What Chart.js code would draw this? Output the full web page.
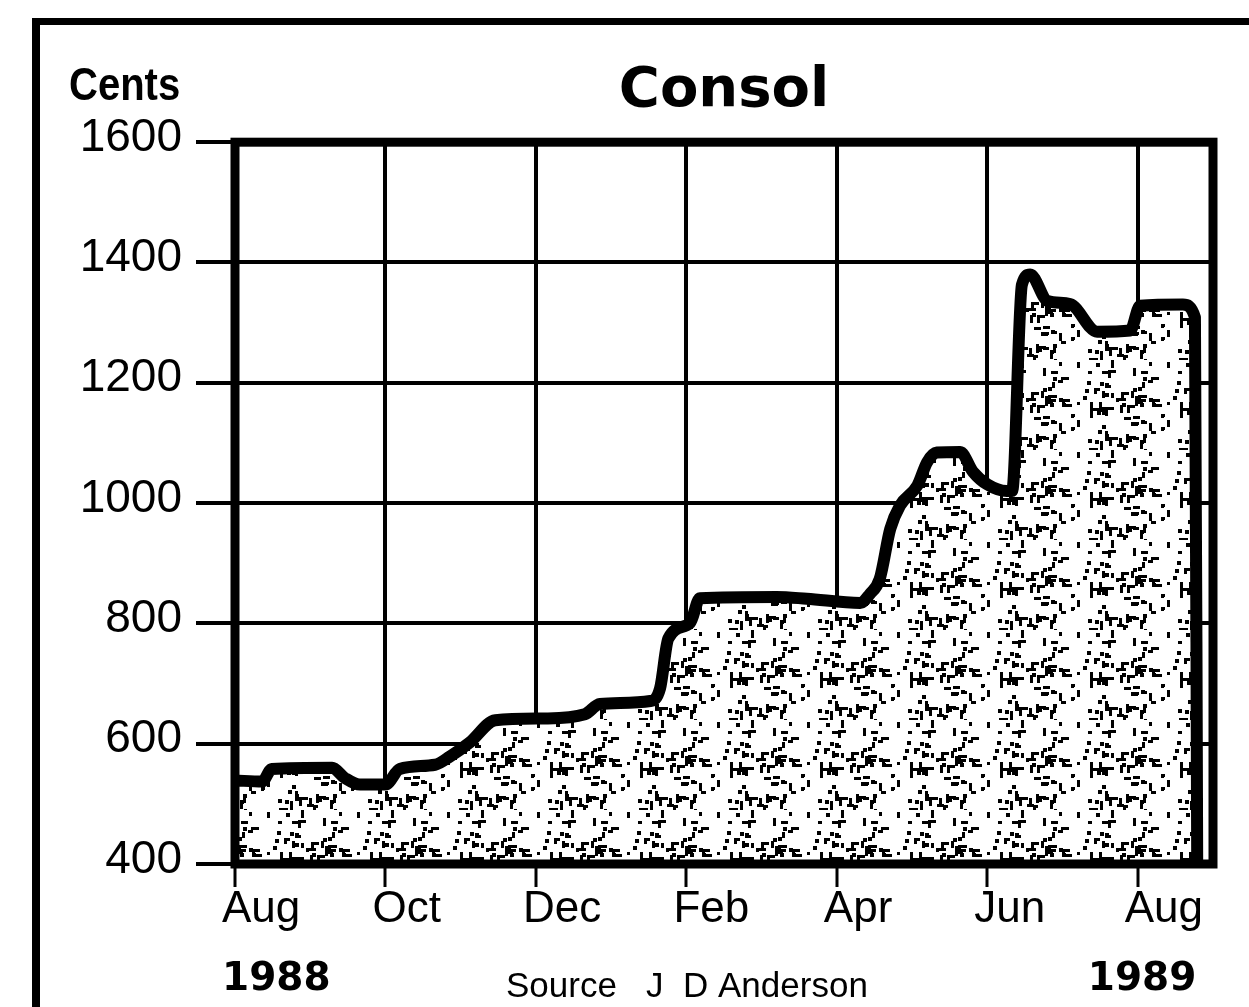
<!DOCTYPE html>
<html>
<head>
<meta charset="utf-8">
<title>Consol</title>
<script src="https://cdn.jsdelivr.net/npm/chart.js@4.4.1/dist/chart.umd.min.js"></script>
<style>
  html, body { margin: 0; padding: 0; background: #fff; overflow: hidden; }
  #wrap { position: relative; width: 1249px; height: 1007px; overflow: hidden; }
  #frame { position: absolute; left: 32px; top: 18px; right: -20px; bottom: -20px;
           border-top: 7px solid #000; border-left: 8px solid #000; }
  canvas { position: absolute; left: 0; top: 0; }
</style>
</head>
<body>
<div id="wrap">
  <div id="frame"></div>
  <canvas id="consol-chart" width="1249" height="1007"></canvas>
</div>
<script>
// months counted from Aug 1988, price in cents
const monthsFromAug88 = [0, 0.36, 0.49, 1.29, 1.46, 1.66, 2.0, 2.19, 2.66, 2.86,
  3.12, 3.46, 4.12, 4.65, 4.85, 5.52, 5.65, 5.76, 6.05, 6.18,
  7.2, 7.6, 8.31, 8.44, 8.57, 8.71, 8.84, 9.07, 9.2, 9.33,
  9.64, 9.81, 10.0, 10.26, 10.33, 10.46, 10.57, 10.8, 11.1, 11.46,
  11.9, 12.03, 12.6, 12.76, 12.79];
const priceCents = [539, 537, 558, 560, 543, 532, 532, 558, 565, 579,
  602, 639, 642, 649, 666, 671, 692, 775, 801, 842,
  844, 841, 834, 849, 874, 957, 996, 1029, 1068, 1084,
  1085, 1052, 1031, 1020, 1020, 1363, 1380, 1336, 1331, 1285,
  1287, 1328, 1330, 1309, 400];

const tickMonths = [0, 2, 4, 6, 8, 10, 12];
const tickLabels = ['Aug', 'Oct', 'Dec', 'Feb', 'Apr', 'Jun', 'Aug'];
const priceTicks = [400, 600, 800, 1000, 1200, 1400, 1600];

const canvas = document.getElementById('consol-chart');
const ctx = canvas.getContext('2d');

// speckled fill like the printed screen (fixed seed, texture only)
function makeStipple() {
  const size = 90;
  const tile = document.createElement('canvas');
  tile.width = size;
  tile.height = size;
  const g = tile.getContext('2d');
  g.fillStyle = '#fff';
  g.fillRect(0, 0, size, size);
  g.fillStyle = '#000';
  let seed = 12345;
  const next = () => { seed = (seed * 1103515245 + 12345) % 2147483648; return seed / 2147483648; };
  for (let i = 0; i < 80; i++) {
    const px = Math.floor(next() * size);
    const py = Math.floor(next() * size);
    const len = 4 + Math.floor(next() * 7);
    const kind = Math.floor(next() * 4);
    if (kind === 0) g.fillRect(px, py, len, 3);
    else if (kind === 1) g.fillRect(px, py, 3, len);
    else if (kind === 2) { g.fillRect(px, py, len, 3); g.fillRect(px, py, 3, len); }
    else g.fillRect(px, py, 4, 4);
  }
  return ctx.createPattern(tile, 'repeat');
}

const plotFrame = {
  id: 'plotFrame',
  afterDatasetsDraw(chart) {
    const a = chart.chartArea;
    const c = chart.ctx;
    c.save();
    c.strokeStyle = '#000';
    c.lineWidth = 9;
    c.strokeRect(a.left, a.top, a.right - a.left, a.bottom - a.top);
    c.restore();
  }
};

const extraText = {
  id: 'extraText',
  afterDraw(chart) {
    const c = chart.ctx;
    const xs = chart.scales.x;
    c.save();
    c.fillStyle = '#000';
    c.textAlign = 'left';
    c.textBaseline = 'alphabetic';
    c.font = 'bold 46px "Liberation Sans", Arial, sans-serif';
    c.save();
    c.translate(69, 100);
    c.scale(0.87, 1);
    c.fillText('Cents', 0, 0);
    c.restore();
    c.font = 'bold 39px "DejaVu Sans", sans-serif';
    c.fillText('1988', xs.getPixelForValue(0) - 13, 990);
    c.fillText('1989', xs.getPixelForValue(12) - 50, 990);
    c.font = '35px "Liberation Sans", Arial, sans-serif';
    c.fillText('Source   J  D Anderson', 506, 997);
    c.restore();
  }
};

const points = monthsFromAug88.map((m, i) => ({ x: m, y: priceCents[i] }));

new Chart(ctx, {
  type: 'line',
  data: {
    datasets: [{
      data: points,
      borderColor: '#000',
      borderWidth: 12,
      borderJoinStyle: 'round',
      backgroundColor: makeStipple(),
      fill: 'start',
      pointRadius: 0,
      cubicInterpolationMode: 'monotone'
    }]
  },
  options: {
    responsive: false,
    animation: false,
    layout: { padding: { top: 0, right: 36, bottom: 0, left: 0 } },
    plugins: {
      legend: { display: false },
      tooltip: { enabled: false },
      title: {
        display: true,
        text: 'Consol',
        fullSize: false,
        color: '#000',
        font: { family: '"DejaVu Sans", sans-serif', size: 56, weight: 'bold', lineHeight: 1.2 },
        padding: { top: 58, bottom: 17 }
      }
    },
    scales: {
      x: {
        type: 'linear',
        min: 0,
        max: 13,
        afterBuildTicks: s => { s.ticks = tickMonths.map(v => ({ value: v })); },
        afterFit: s => { s.height = 143; },
        border: { display: false },
        grid: { color: '#000', lineWidth: 4, tickLength: 23, tickWidth: 3 },
        ticks: {
          color: '#000',
          font: { family: '"Liberation Sans", Arial, sans-serif', size: 44, lineHeight: 1 },
          padding: 1,
          align: 'start',
          labelOffset: -13,
          maxRotation: 0,
          autoSkip: false,
          callback: (v, i) => tickLabels[i]
        }
      },
      y: {
        min: 400,
        max: 1600,
        afterBuildTicks: s => { s.ticks = priceTicks.map(v => ({ value: v })); },
        afterFit: s => { s.width = 235; },
        border: { display: false },
        grid: { color: '#000', lineWidth: 4, tickLength: 39 },
        ticks: {
          color: '#000',
          font: { family: '"Liberation Sans", Arial, sans-serif', size: 46 },
          padding: 14,
          labelOffset: -4,
          callback: v => String(v)
        }
      }
    }
  },
  plugins: [plotFrame, extraText]
});
</script>
</body>
</html>
